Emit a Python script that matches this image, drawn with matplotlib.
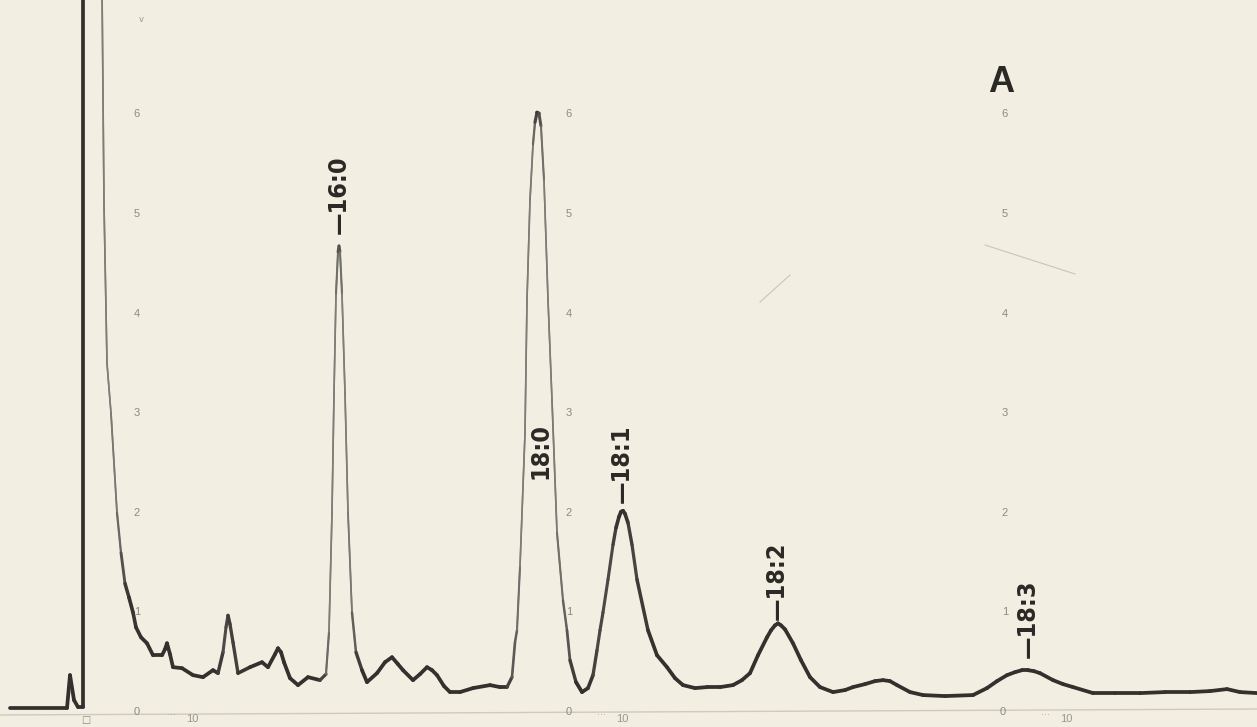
import numpy as np
import matplotlib
matplotlib.use("Agg")
import matplotlib.pyplot as plt
from matplotlib.collections import LineCollection
from matplotlib import font_manager as fm

# ---------------- data ----------------
# chart position (horizontal, paper units) and detector response (chart divisions)
trace_x = [10, 67, 70, 74, 78, 83, 83, 86, 101, 102, 104, 107, 111, 117, 121, 125, 129, 133,
           136, 141, 147, 153, 162, 165, 167, 170, 173, 182, 193, 203, 213, 218, 223, 226,
           228, 230, 233, 238, 250, 262, 268, 275, 278, 281, 284, 290, 298, 308, 320, 326,
           329, 332, 334, 336, 338, 339, 340, 342, 345, 348, 352, 356, 362, 367, 377, 385,
           392, 398, 403, 413, 420, 427, 432, 437, 444, 450, 460, 473, 490, 500, 507, 512,
           515, 517, 520, 525, 527, 530, 533, 535, 537, 539, 541, 544, 548, 552, 557, 563,
           567, 570, 576, 582, 588, 593, 597, 600, 603, 608, 613, 616, 619, 621, 623, 625,
           628, 632, 637, 648, 657, 667, 675, 683, 695, 707, 720, 733, 742, 750, 758, 767,
           771, 775, 778, 781, 785, 793, 801, 810, 820, 833, 845, 853, 865, 875, 883, 890,
           897, 910, 923, 945, 973, 987, 997, 1007, 1015, 1022, 1028, 1034, 1040, 1053,
           1063, 1073, 1093, 1115, 1140, 1165, 1190, 1210, 1227, 1240, 1257]
trace_y = [0.04, 0.04, 0.37, 0.12, 0.05, 0.05, 7.6, 7.6, 7.6, 7.3, 5.1, 3.5, 3.0, 2.0, 1.6,
           1.29, 1.15, 1.0, 0.85, 0.75, 0.69, 0.57, 0.57, 0.63, 0.69, 0.58, 0.45, 0.44,
           0.37, 0.35, 0.42, 0.39, 0.60, 0.85, 0.97, 0.88, 0.70, 0.39, 0.45, 0.50, 0.45,
           0.58, 0.64, 0.60, 0.50, 0.34, 0.27, 0.35, 0.32, 0.38,
           0.80, 2.0, 3.2, 4.2, 4.62, 4.68, 4.62, 4.2, 3.2, 2.0, 1.0, 0.6, 0.42, 0.30, 0.39,
           0.50, 0.55, 0.48, 0.42, 0.32, 0.38, 0.45, 0.42, 0.37, 0.26, 0.20, 0.20, 0.24,
           0.27, 0.25, 0.25, 0.35, 0.70, 0.82, 1.46, 2.80, 4.14, 5.14, 5.70, 5.92, 6.02,
           6.01, 5.88, 5.34, 4.14, 3.13, 1.80, 1.12, 0.82, 0.52, 0.30, 0.20, 0.24, 0.37,
           0.62, 0.82, 1.0, 1.33, 1.68, 1.85, 1.96, 2.01, 2.02, 1.99, 1.90, 1.68, 1.33,
           0.82, 0.57, 0.45, 0.34, 0.27, 0.24, 0.25, 0.25, 0.27, 0.32, 0.39, 0.57, 0.75,
           0.82, 0.87, 0.89, 0.87, 0.83, 0.69, 0.52, 0.35, 0.25, 0.20, 0.22, 0.25, 0.28,
           0.31, 0.32, 0.31, 0.27, 0.20, 0.17, 0.16, 0.17, 0.24, 0.31, 0.37, 0.40, 0.42,
           0.42, 0.41, 0.39, 0.32, 0.28, 0.25, 0.19, 0.19, 0.19, 0.20, 0.20, 0.21, 0.23,
           0.20, 0.19]

peak_names = ["—16:0", "18:0", "—18:1", "—18:2", "—18:3"]
peak_label_x = [339, 541, 622, 777, 1028]
peak_label_y = [4.80, 2.62, 2.10, 0.92, 0.54]
peak_label_va = ["bottom", "center", "bottom", "bottom", "bottom"]

scale_values = [0, 1, 2, 3, 4, 5, 6]
scale_columns_x = [137, 569, 1005]
minute_marks_x = [192, 622, 1066]
minute_labels = ["10", "10", "10"]
zero_labels_x = [137, 569, 1003]
panel_letter = "A"

# ---------------- fonts ----------------
def has_font(**kw):
    try:
        return fm.findfont(fm.FontProperties(**kw), fallback_to_default=False)
    except Exception:
        return None

narrow = has_font(family="Liberation Sans Narrow", weight="bold")
cond = fm.findfont(fm.FontProperties(family="DejaVu Sans", stretch="condensed", weight="bold"))
if narrow and "Narrow" in narrow:
    lab_kw = dict(family=["Liberation Sans Narrow", "DejaVu Sans"], fontsize=20, fontweight="bold")
elif "Condensed" in cond:
    lab_kw = dict(family=["DejaVu Sans"], fontstretch="condensed", fontsize=18, fontweight="bold")
else:
    lab_kw = dict(family=["Roboto", "DejaVu Sans"], fontsize=17, fontweight="bold")

# ---------------- figure ----------------
W, H = 1257, 727
fig = plt.figure(figsize=(W / 100, H / 100), dpi=100)
paper = "#f2eee1"
fig.patch.set_facecolor(paper)
ax = fig.add_axes([0, 0, 1, 1])
ax.set_facecolor(paper)
px_per_unit = 99.6
y_bottom = -(H - 712) / px_per_unit
y_top = 712 / px_per_unit
ax.set_xlim(0, W)
ax.set_ylim(y_bottom, y_top)
ax.axis("off")

# chart-paper zero line
ax.plot([0, W], [-0.03, 0.03], color="#cfcabd", lw=1.0, zorder=1)

# chart-paper scale numbers
small = ["Liberation Sans", "DejaVu Sans"]
for cx in scale_columns_x:
    for v in scale_values[1:]:
        ax.text(cx, v, str(v), fontsize=8, color="#8d8a80", ha="center", va="center",
                family=small, zorder=2)
for cx in zero_labels_x:
    ax.text(cx, 0.0, "0", fontsize=8, color="#8d8a80", ha="center", va="center",
            family=small, zorder=2)
for mx, lab in zip(minute_marks_x, minute_labels):
    ax.text(mx, -0.075, lab, fontsize=8, color="#9a978c", ha="center", va="center",
            family=small, zorder=2)
    ax.text(mx - 20, -0.03, "···", fontsize=7, color="#b3afa3", ha="center", va="center", zorder=2)
ax.text(86, -0.085, "□", fontsize=7, color="#8d8a80", ha="center", va="center", zorder=2)
ax.text(141, 6.95, "v", fontsize=6, color="#9a978c", ha="center", va="center", zorder=2)

# faint paper scratches
ax.plot([760, 790], [(712 - 302) / px_per_unit, (712 - 275) / px_per_unit],
        color="#c9c5b8", lw=0.8, zorder=1)
ax.plot([985, 1075], [(712 - 245) / px_per_unit, (712 - 274) / px_per_unit],
        color="#c9c5b8", lw=0.8, zorder=1)

# ---------------- chromatogram trace ----------------
xs = np.array(trace_x, dtype=float)
ys = np.array(trace_y, dtype=float)
pts = np.column_stack([xs, ys])
segs = np.stack([pts[:-1], pts[1:]], axis=1)
dx = np.abs(np.diff(xs)) + 1e-6
dy = np.abs(np.diff(ys)) * px_per_unit
slope = dy / dx
t = np.clip((slope - 4.0) / 8.0, 0, 1)
# pen-speed shading blends over neighbouring segments
tp = np.pad(t, 1, mode="edge")
t = 0.25 * tp[:-2] + 0.5 * tp[1:-1] + 0.25 * tp[2:]
t[xs[:-1] < 84] = 0.0  # slow pen on solvent front rise
dark = np.array([0.20, 0.19, 0.18])
grey = np.array([0.50, 0.49, 0.47])
cols = dark[None, :] * (1 - t[:, None]) + grey[None, :] * t[:, None]
lws = 2.7 - 1.5 * t
ax.plot(xs, ys, color=grey, lw=1.1, zorder=2.9, solid_joinstyle="round")
lc = LineCollection(segs, colors=cols, linewidths=lws, capstyle="round",
                    joinstyle="round", zorder=3)
ax.add_collection(lc)

# ---------------- peak labels ----------------
for name, lx, ly, va in zip(peak_names, peak_label_x, peak_label_y, peak_label_va):
    ax.text(lx, ly, name, rotation=90, ha="center", va=va, color="#2b2926", zorder=4, **lab_kw)

ax.text(1001, (712 - 82) / px_per_unit, panel_letter, fontsize=26, fontweight="bold",
        color="#2b2926", ha="center", va="center", family=small, zorder=4)

fig.savefig("out.png", dpi=100, facecolor=paper)
